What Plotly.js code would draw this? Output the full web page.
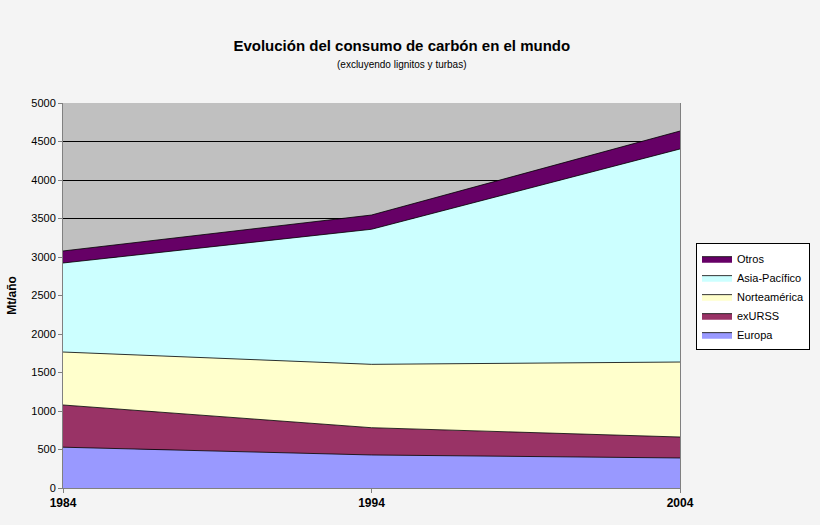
<!DOCTYPE html>
<html>
<head>
<meta charset="utf-8">
<script src="https://cdn.plot.ly/plotly-3.0.1.min.js"></script>
<style>
  html, body { margin: 0; padding: 0; background: #f4f4f4; }
  #gd { width: 820px; height: 525px; }
</style>
</head>
<body>
<div id="gd"></div>
<script>
// años y consumo por región (Mt/año)
const years = [1984, 1994, 2004];
const europa = [530, 429, 390];
const exurss = [548, 354, 272];
const norteamerica = [688, 823, 974];
const asiaPacifico = [1156, 1754, 2767];
const otros = [156, 185, 233];

const names = ['Europa', 'exURSS', 'Norteamérica', 'Asia-Pacífico', 'Otros'];
const series = [europa, exurss, norteamerica, asiaPacifico, otros];
const colors = ['#9999ff', '#993366', '#ffffcc', '#ccffff', '#660066'];

let data = series.map(function (vals, i) {
    return {
        x: years,
        y: vals,
        name: names[i],
        type: 'scatter',
        mode: 'lines',
        stackgroup: 'one',
        line: {color: '#000000', width: 0.8},
        fillcolor: colors[i]
    };
});

let layout = {
    width: 820,
    height: 525,
    paper_bgcolor: '#f4f4f4',
    plot_bgcolor: '#c0c0c0',
    font: {family: 'Liberation Sans, Arial, sans-serif', size: 11, color: '#000'},
    title: {
        text: '<b>Evolución del consumo de carbón en el mundo</b>',
        font: {size: 15},
        x: 0.49,
        xanchor: 'center',
        y: 0.912,
        yanchor: 'middle'
    },
    annotations: [{
        text: '(excluyendo lignitos y turbas)',
        xref: 'paper', yref: 'paper',
        x: 0.549, y: 1.099,
        xanchor: 'center', yanchor: 'middle',
        showarrow: false,
        font: {size: 10}
    }],
    margin: {l: 63, r: 140, t: 103, b: 37, autoexpand: false},
    xaxis: {
        range: [1984, 2004],
        tickvals: years,
        ticktext: years.map(y => '<b>' + y + '</b>'),
        ticks: 'outside',
        ticklen: 4,
        tickcolor: '#808080',
        showgrid: false,
        zeroline: false,
        showline: true,
        linecolor: '#808080',
        tickfont: {size: 12}
    },
    yaxis: {
        range: [0, 5000],
        dtick: 500,
        ticks: 'outside',
        ticklen: 4,
        tickcolor: '#808080',
        showgrid: true,
        gridcolor: '#000000',
        gridwidth: 1,
        zeroline: false,
        showline: true,
        linecolor: '#808080',
        mirror: true,
        title: {text: '<b>Mt/año</b>', font: {size: 12}, standoff: 12}
    },
    legend: {
        x: 1.2107,
        y: 0.636,
        xanchor: 'right',
        yanchor: 'top',
        traceorder: 'reversed',
        bgcolor: '#ffffff',
        bordercolor: '#000000',
        borderwidth: 1,
        font: {size: 11},
        itemwidth: 30,
        tracegroupgap: 0
    },
    showlegend: true
};

Plotly.newPlot('gd', data, layout, {displayModeBar: false});
</script>
</body>
</html>
